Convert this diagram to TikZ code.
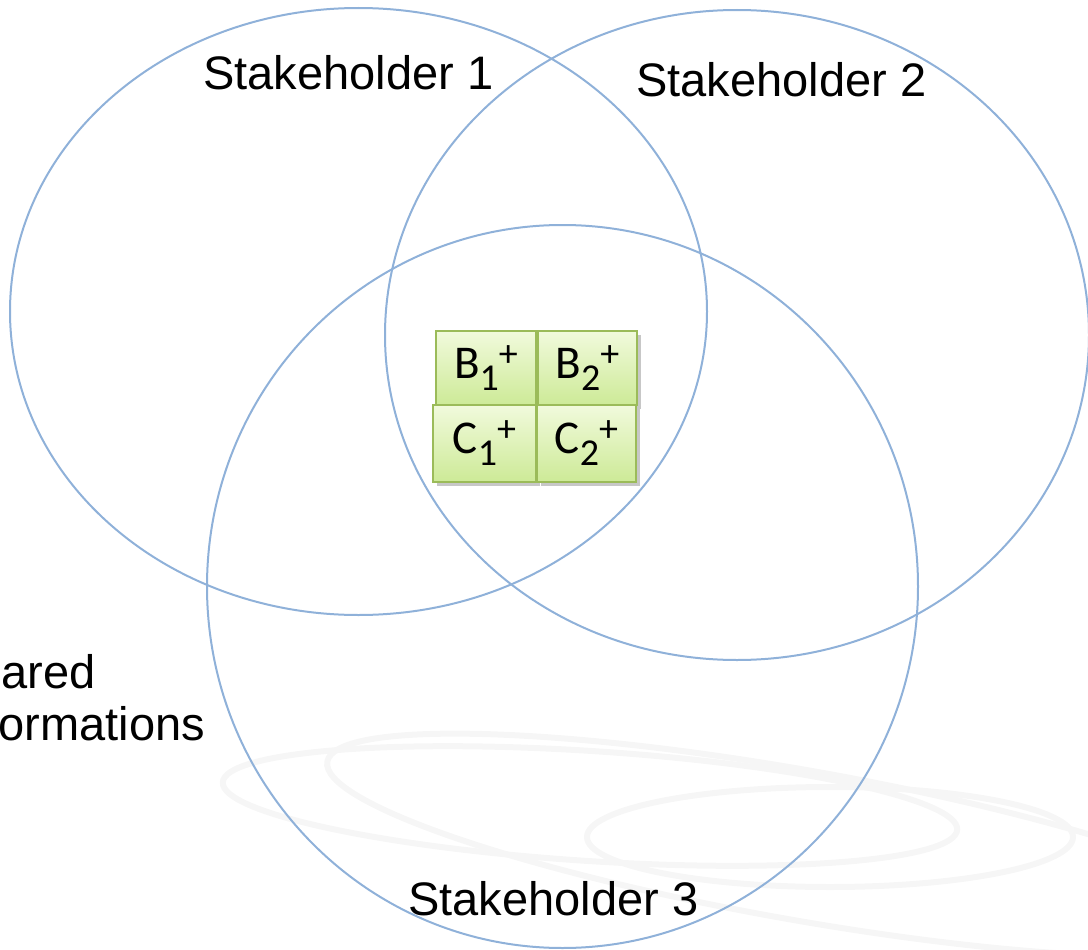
\documentclass[tikz,border=0pt]{standalone}
\usepackage{fontspec}
\setmainfont{Liberation Sans}
\newfontfamily\boxfont{Carlito}
\definecolor{ringblue}{HTML}{8FB1D9}
\definecolor{boxtop}{HTML}{F1FADC}
\definecolor{boxbot}{HTML}{CDEA97}
\definecolor{boxline}{HTML}{9BBB59}
\definecolor{wmark}{HTML}{F6F6F6}
\tikzset{
  ring/.style={draw=ringblue, line width=2pt},
  wm/.style={draw=wmark, line width=6pt},
  label/.style={font=\fontsize{47}{52}\selectfont, anchor=base west, inner sep=0pt},
  cell/.style={draw=boxline, line width=1.2pt, top color=boxtop, bottom color=boxbot,
    inner sep=0pt, font=\boxfont\fontsize{47}{47}\selectfont},
  cellshadow/.style={fill=black!22, draw=none}
}
\newcommand{\subsup}[2]{{\fontsize{38}{38}\selectfont\raisebox{-12pt}{#1}\raisebox{12pt}{#2}}}
\begin{document}
\begin{tikzpicture}[x=1pt,y=-1pt]
\useasboundingbox (0,0) rectangle (1088,950);
% faint background watermark
\draw[wm, rotate around={-3.7:(590,806)}] (590,806) ellipse [x radius=368, y radius=55];
\draw[wm] (830,837) ellipse [x radius=243, y radius=50];
\draw[wm, rotate around={-10:(800,845)}] (800,845) ellipse [x radius=480, y radius=75];
% three stakeholder ellipses
\draw[ring] (358.5,311.5) ellipse [x radius=348.5, y radius=303.5];
\draw[ring] (737,335) ellipse [x radius=352, y radius=325];
\draw[ring] (562.5,586.5) ellipse [x radius=355.5, y radius=361.5];
% labels
\node[label] (s1) at (203,90) {Stakeholder 1};
\node[label] (s2) at (636,97) {Stakeholder 2};
\node[label] (s3) at (408,915) {Stakeholder 3};
\node[label] (sh1) at (-56,688) {Shared};
\node[label] (sh2) at (-51,740) {informations};
% shadows
\fill[cellshadow] (440,335) rectangle (540,409);
\fill[cellshadow] (542,335) rectangle (641,409);
\fill[cellshadow] (437,409) rectangle (540,486);
\fill[cellshadow] (541,409) rectangle (640,486);
% cells
\node[cell, minimum width=100pt, minimum height=74pt] (b1) at (486,368) {B\subsup{1}{+}};
\node[cell, minimum width=99pt, minimum height=74pt] (b2) at (587.5,368) {B\subsup{2}{+}};
\node[cell, minimum width=103pt, minimum height=77pt] (c1) at (484.5,443.5) {C\subsup{1}{+}};
\node[cell, minimum width=99pt, minimum height=77pt] (c2) at (586.5,443.5) {C\subsup{2}{+}};
\end{tikzpicture}
\end{document}
